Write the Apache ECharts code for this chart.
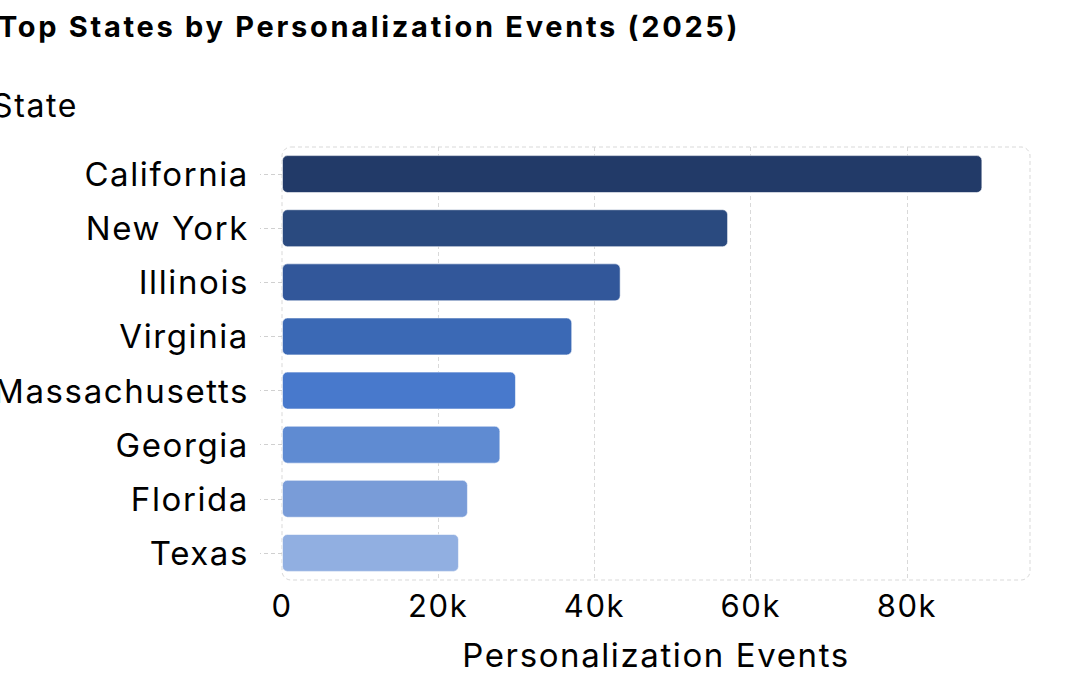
<!DOCTYPE html>
<html>
<head>
<meta charset="utf-8">
<script src="https://cdn.jsdelivr.net/npm/echarts@6/dist/echarts.min.js"></script>
<style>
  html, body { margin: 0; padding: 0; background: #fff; }
  #chart-panel { width: 1080px; height: 675px; }
  #chart-panel text { letter-spacing: 1.6px; }
  #chart-panel text[style*="bold"] { letter-spacing: 2.7px; }
</style>
</head>
<body>
<div id="chart-panel"></div>
<script>
// 数据：从上到下的州顺序
var states = ['California', 'New York', 'Illinois', 'Virginia', 'Massachusetts', 'Georgia', 'Florida', 'Texas'];
var events = [89650, 57100, 43350, 37150, 29950, 27950, 23800, 22650];
var barColors = ['#223A68', '#2A4A7F', '#32579A', '#3B69B5', '#4879CC', '#5F8BD2', '#799CD8', '#91AFE1'];

// 绘图区位置
let gridBox = { left: 282, top: 147, width: 748, height: 433 };
let fontName = 'Inter, "Noto Sans", sans-serif';

let chartPanel = document.getElementById('chart-panel');
let myChart = echarts.init(chartPanel, null, { renderer: 'svg' });

myChart.setOption({
  backgroundColor: '#fff',
  animation: false,
  title: {
    text: 'Top States by Personalization Events (2025)',
    left: -2,
    top: 12,
    padding: 0,
    textStyle: {
      color: '#000',
      fontFamily: fontName,
      fontWeight: 'bold',
      fontSize: 29
    }
  },
  grid: {
    left: gridBox.left,
    top: gridBox.top,
    width: gridBox.width,
    height: gridBox.height,
    outerBoundsMode: 'none',
    show: false
  },
  //圆角虚线边框
  graphic: [{
    type: 'rect',
    z: 0,
    silent: true,
    shape: { x: gridBox.left, y: gridBox.top, width: gridBox.width, height: gridBox.height, r: 9 },
    style: { fill: 'none', stroke: '#d9d9d9', lineWidth: 1, lineDash: [4, 3] }
  }],
  xAxis: {
    type: 'value',
    min: 0,
    max: 95750,
    interval: 20000,
    name: 'Personalization Events',
    nameLocation: 'middle',
    nameGap: 58,
    nameTextStyle: { color: '#000', fontFamily: fontName, fontSize: 33 },
    axisLine: { show: false },
    axisTick: { show: false },
    axisLabel: {
      color: '#000',
      fontFamily: fontName,
      fontSize: 31,
      margin: 10,
      showMaxLabel: false,
      formatter: v => v === 0 ? '0' : (v / 1000) + 'k'
    },
    splitLine: {
      show: true,
      showMinLine: false,
      showMaxLine: false,
      lineStyle: { color: '#d9d9d9', type: [4, 3], width: 1 }
    }
  },
  yAxis: {
    type: 'category',
    inverse: true,
    data: states,
    name: 'State',
    nameLocation: 'start',
    nameGap: 26,
    nameTextStyle: {
      color: '#000',
      fontFamily: fontName,
      fontSize: 32,
      align: 'right',
      padding: [0, 204, 0, 0]
    },
    axisLine: { show: false },
    axisTick: {
      show: true,
      alignWithLabel: true,
      length: 22,
      lineStyle: { color: '#d0d0d0', type: [4, 3] }
    },
    axisLabel: {
      color: '#000',
      fontFamily: fontName,
      fontSize: 33,
      margin: 33
    },
    splitLine: { show: false }
  },
  series: [{
    type: 'bar',
    barCategoryGap: '30%',
    z: 3,
    data: events.map((v, i) => ({
      value: v,
      itemStyle: { color: barColors[i] }
    })),
    itemStyle: {
      borderRadius: 5,
      borderColor: 'rgba(255,255,255,0.55)',
      borderWidth: 1
    }
  }]
});

window.onresize = function () {
  myChart.resize();
}
</script>
</body>
</html>
